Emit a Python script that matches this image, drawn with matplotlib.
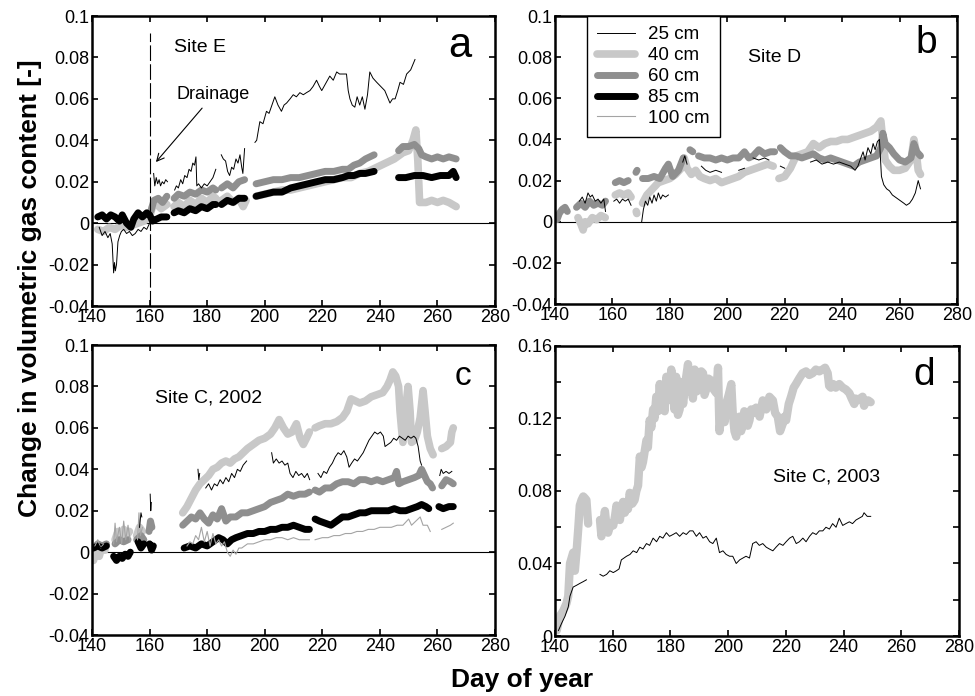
import numpy as np
import matplotlib
matplotlib.use('Agg')
from matplotlib import pyplot as plt

plt.rcParams['font.family'] = ['Liberation Sans', 'DejaVu Sans']
plt.rcParams['axes.unicode_minus'] = False

nan = np.nan

# ---------------- panel a : Site E ----------------
a25_day = [142.5, 143.5, 144.5, 145.5, 146.3, 147.0, 147.5, 147.8, 148.1, 148.5, 149.0, 149.6, 150.2, 151.0,
           152.0, 153.0, 154.0, 155.0, 156.0, 157.0, 158.0, 159.0, 160.0, 160.8, nan,
           161.4, 161.8, 162.3, 162.8, 163.3, 163.8, 164.4, 165.0, 165.6, 166.2, nan,
           168.7, 169.3, 170.0, 170.8, 171.5, 172.2, 173.0, 173.7, 174.4, 175.0, 175.6, 176.1, 176.4, 177.0,
           178.0, 179.0, 180.0, 181.0, 182.0, 183.0, nan,
           184.9, 185.6, 186.4, 187.1, 187.8, 188.5, 189.2, 190.0, 190.7, 191.4, 192.0, 192.4, 193.0, nan,
           196.6, 197.2, 198.3, 199.4, 200.6, 201.5, 202.5, 203.5, 204.6, 205.8, 206.7, 207.6, 208.8, 209.9,
           211.0, 212.2, 213.4, 214.5, 215.7, 216.8, 218.0, 219.0, 219.8, 221.0, 222.6, 223.8, 225.0, 226.0,
           227.3, 228.4, 229.0, 229.6, 230.4, 231.3, 232.1, 233.0, 233.9, 234.8, 235.7, 236.5, 237.6, 238.9,
           240.3, 241.7, 242.6, 243.5, 244.4, 245.3, 246.2, 247.0, 248.2, 249.3, 250.7, 252.2]
a25_val = [-0.002, -0.006, -0.004, -0.007, -0.005, -0.010, -0.024, -0.019, -0.023, -0.020, -0.009, -0.006,
           -0.004, -0.003, -0.005, -0.004, -0.006, -0.005, -0.003, -0.004, -0.002, -0.003, 0.000, 0.002, nan,
           0.024, 0.018, 0.022, 0.019, 0.021, 0.018, 0.020, 0.019, 0.021, 0.020, nan,
           0.016, 0.018, 0.017, 0.021, 0.019, 0.023, 0.022, 0.026, 0.025, 0.029, 0.028, 0.032, 0.018, 0.019,
           0.017, 0.019, 0.018, 0.020, 0.022, 0.026, nan,
           0.033, 0.031, 0.030, 0.025, 0.023, 0.027, 0.026, 0.031, 0.029, 0.033, 0.027, 0.024, 0.036, nan,
           0.039, 0.040, 0.049, 0.048, 0.054, 0.053, 0.057, 0.061, 0.057, 0.054, 0.057, 0.058, 0.060, 0.062,
           0.061, 0.063, 0.062, 0.063, 0.064, 0.066, 0.069, 0.066, 0.064, 0.067, 0.071, 0.069, 0.073, 0.072,
           0.072, 0.072, 0.064, 0.060, 0.057, 0.056, 0.061, 0.057, 0.061, 0.055, 0.062, 0.073, 0.070, 0.068,
           0.066, 0.064, 0.061, 0.058, 0.060, 0.060, 0.064, 0.068, 0.067, 0.072, 0.074, 0.079]

a40_day = [142, 144, 146, 148, 150, 152, 154, 156, 158, 160, 161, 162.5, 164, 166, nan,
           168.5, 170, 172, 174, 176, 178, 180, 182, 183, nan,
           185, 187, 189, 191, 192.5, 193.5, nan,
           197, 200, 203, 206, 209, 212, 215, 218, 221, 224, 227, 230, 233, 236, 239, 242, 245, 248, 250,
           251.5, 252.5, 253.2, 253.8, 256, 258, 260, 262, 264, 266.5]
a40_val = [-0.003, -0.004, -0.002, -0.003, -0.001, -0.002, -0.001, 0.000, 0.001, 0.003, 0.008, 0.009, 0.007,
           0.009, nan,
           0.008, 0.010, 0.008, 0.011, 0.009, 0.012, 0.010, 0.013, 0.012, nan,
           0.011, 0.013, 0.010, 0.012, 0.008, 0.011, nan,
           0.013, 0.014, 0.015, 0.016, 0.016, 0.017, 0.018, 0.019, 0.020, 0.021, 0.022, 0.022, 0.024, 0.025,
           0.027, 0.029, 0.031, 0.034, 0.035, 0.040, 0.045, 0.030, 0.010, 0.010, 0.011, 0.010, 0.011, 0.010,
           0.008]

a60_day = [160.5, 161.5, 163, 164.5, 166, nan,
           168.5, 170, 172, 174, 176, 178, 180, 182, 183, nan,
           185, 187, 189, 191, 193, nan,
           197, 200, 203, 206, 209, 212, 215, 218, 221, 224, 227, 229, 231, 233, 235, 238, nan,
           246.5, 248, 250, 252, 253.5, 254.5, 256, 258, 260, 262, 264, 266.5]
a60_val = [0.006, 0.011, 0.012, 0.010, 0.013, nan,
           0.012, 0.014, 0.013, 0.015, 0.014, 0.016, 0.015, 0.017, 0.016, nan,
           0.017, 0.019, 0.017, 0.020, 0.021, nan,
           0.019, 0.020, 0.021, 0.021, 0.022, 0.022, 0.023, 0.024, 0.025, 0.025, 0.026, 0.026, 0.028, 0.029,
           0.031, 0.033, nan,
           0.035, 0.037, 0.037, 0.038, 0.036, 0.033, 0.032, 0.031, 0.032, 0.031, 0.032, 0.031]

a85_day = [142, 143.5, 145, 146.5, 148, 149.5, 150.5, 152, 153.5, 154.5, 156, 157.5, 159, 160, 161, 162.5,
           164, 166, nan,
           168.5, 170, 172, 174, 176, 178, 180, 182, 183, nan,
           185, 187, 189, 191, 193, nan,
           197, 200, 203, 206, 209, 212, 215, 218, 221, 224, 227, 229, 231, 233, 235, 238, nan,
           246.5, 249, 252, 255, 258, 261, 264, 265.5, 266.5]
a85_val = [0.003, 0.004, 0.002, 0.004, 0.003, 0.001, 0.004, 0.000, -0.002, 0.002, 0.005, 0.003, 0.005, 0.004,
           0.001, 0.002, 0.003, 0.003, nan,
           0.005, 0.006, 0.005, 0.007, 0.006, 0.008, 0.007, 0.009, 0.009, nan,
           0.009, 0.011, 0.010, 0.012, 0.012, nan,
           0.013, 0.014, 0.015, 0.015, 0.017, 0.018, 0.019, 0.020, 0.021, 0.021, 0.022, 0.023, 0.023, 0.024,
           0.024, 0.025, nan,
           0.022, 0.022, 0.023, 0.023, 0.022, 0.023, 0.023, 0.025, 0.022]

# ---------------- panel b : Site D ----------------
b25_day = [148.5, 149.5, 150.5, 151.5, 152.3, 153, 154, 155, 156, 157, 157.6, nan,
           160.5, 161.5, 162.5, 163.5, 164.5, 165.5, 166.5, nan,
           170.2, 170.8, 171.5, 172.3, 173, 173.8, 174.5, 175.3, 176, 176.8, 177.5, 178.5, 179.5, nan,
           184.5, 185.2, 186, nan,
           191, 192.5, 194, 196, 198, nan,
           204, 206, nan,
           209, 211, 213, 214.5, nan,
           218.5, 220, nan,
           229, 231, 233, 235, 237, 239, 241, 243, 244.5, 245.5, 246.5, 247.3, 248, 249, 250, 250.8, 251.5,
           252.3, 253, 253.7, 254.5, 255.5, 256.5, 257.5, 258.5, 259.5, 260.5, 261.5, 262.4, 263.5, 264.5,
           265.5, 266.5, 267.3]
b25_val = [0.010, 0.012, 0.009, 0.014, 0.012, 0.013, 0.010, 0.011, 0.009, 0.011, 0.005, nan,
           0.010, 0.011, 0.009, 0.011, 0.010, 0.011, 0.008, nan,
           0.000, 0.006, 0.010, 0.008, 0.012, 0.009, 0.013, 0.010, 0.014, 0.011, 0.013, 0.012, 0.013, nan,
           0.029, 0.032, 0.028, nan,
           0.027, 0.025, 0.024, 0.025, 0.024, nan,
           0.025, 0.026, nan,
           0.031, 0.030, 0.031, 0.030, nan,
           0.027, 0.026, nan,
           0.029, 0.030, 0.028, 0.029, 0.028, 0.029, 0.028, 0.027, 0.025, 0.027, 0.031, 0.034, 0.030, 0.036,
           0.033, 0.038, 0.035, 0.039, 0.040, 0.022, 0.018, 0.016, 0.015, 0.013, 0.012, 0.011, 0.010, 0.009,
           0.008, 0.009, 0.011, 0.014, 0.020, 0.016]

b40_day = [148, 149, 149.8, 150.5, 151.5, 153, 154.5, 156, 157.5, nan,
           161, 162.5, 164, 165.5, 166.5, nan,
           168.3, 168.5, nan,
           170.5, 172, 174, 176, 178, 180, 182, 184, 185, 186, 187.5, 189, 190.5, 192, 194, 196, 198, 200,
           202, 204, 206, 208, 210, 212, 214, 216, nan,
           218, 220, 222, 224, 226, 228, 230, 232, 234, 236, 238, 240, 242, 244, 246, 248, 250, 252, 253.5,
           254.3, 255, 256.5, 258, 260, 262, 264, 265, 265.8, 266.5, 267.3]
b40_val = [0.002, -0.001, -0.004, 0.000, -0.001, 0.002, 0.001, 0.003, 0.002, nan,
           0.013, 0.014, 0.013, 0.014, 0.012, nan,
           0.005, 0.004, nan,
           0.009, 0.013, 0.016, 0.019, 0.020, 0.021, 0.023, 0.026, 0.031, 0.026, 0.023, 0.025, 0.022, 0.021,
           0.020, 0.021, 0.019, 0.020, 0.021, 0.022, 0.024, 0.025, 0.026, 0.027, 0.028, 0.027, nan,
           0.021, 0.022, 0.026, 0.032, 0.033, 0.034, 0.038, 0.036, 0.038, 0.039, 0.039, 0.040, 0.040, 0.041,
           0.042, 0.043, 0.044, 0.046, 0.049, 0.038, 0.030, 0.027, 0.025, 0.025, 0.026, 0.030, 0.040, 0.034,
           0.025, 0.023]

b60_day = [140.7, 141.5, 142.5, 143.5, 144.3, nan,
           147.5, 149, 150.5, 152, 153.5, 155, 156.5, 157.6, nan,
           161, 162.5, 164, 165.5, nan,
           168.2, 168.6, nan,
           170.5, 172.5, 174.5, 176.5, 178.5, 179.5, 181, 183, 184.7, nan,
           187, 188, nan,
           190, 192, 194, 196, 198, 200, 202, 204, 206, 207.5, 209, 211, 213, 215, 216.5, nan,
           218.5, 220, 222, 224, 226, 228, 230, 232, 234, 236, 238, 240, 242, 244, 246, 248, 250, 252, 253.5,
           254.2, 255, 256.5, 258, 260, 262, 264, 265, 266, 267.3]
b60_val = [0.001, 0.004, 0.006, 0.007, 0.005, nan,
           0.007, 0.009, 0.007, 0.010, 0.008, 0.009, 0.008, 0.010, nan,
           0.019, 0.020, 0.019, 0.020, nan,
           0.024, 0.025, nan,
           0.021, 0.021, 0.022, 0.021, 0.026, 0.028, 0.022, 0.025, 0.031, nan,
           0.035, 0.034, nan,
           0.032, 0.031, 0.031, 0.030, 0.031, 0.030, 0.031, 0.031, 0.034, 0.031, 0.032, 0.035, 0.033, 0.034,
           0.034, nan,
           0.036, 0.034, 0.032, 0.032, 0.031, 0.032, 0.033, 0.031, 0.030, 0.031, 0.030, 0.029, 0.028, 0.027,
           0.029, 0.030, 0.031, 0.032, 0.036, 0.043, 0.038, 0.036, 0.033, 0.030, 0.029, 0.031, 0.038, 0.034,
           0.032]

# ---------------- panel c : Site C, 2002 ----------------
c25_day = [141, 142, 143, 144, 145, nan,
           156.5, 157, 157.3, nan,
           160.2, 160.4, 160.6, nan,
           176.8, 177.1, 177.4, nan,
           179.5, 180.5, 181.5, 182.5, 183.5, 184.5, 185.5, 186.5, 187.5, 188.5, 189.5, 190.5, 191.5, 192.5,
           193.7, nan,
           202.4, 203, 204, 205, 206, 207, 208, 208.8, 209.8, 210.8, 211.8, 212.8, 213.8, 214.8, 215.6, nan,
           218.5, 219.5, 220.5, 221.5, 222.5, 223.5, 224.5, 225.5, 226.5, 227.5, 228.5, 229.3, 230.2, 231.2,
           232.2, 233.2, 234.2, 235.2, 236.2, 237.2, 238.2, 239.2, 240.2, 241.2, 241.8, 242.8, 243.8, 244.8,
           245.8, 246.8, 247.8, 248.8, 249.8, 250.8, 251.8, 252.5, 253.3, 254, 254.5, nan,
           260.8, 261.3, 262, 263, 264, 265]
c25_val = [0.002, 0.004, 0.002, 0.003, 0.002, nan,
           0.012, 0.019, 0.017, nan,
           0.028, 0.020, 0.024, nan,
           0.040, 0.035, 0.038, nan,
           0.031, 0.033, 0.030, 0.033, 0.032, 0.035, 0.033, 0.036, 0.034, 0.038, 0.036, 0.040, 0.039, 0.042,
           0.044, nan,
           0.048, 0.043, 0.045, 0.043, 0.044, 0.042, 0.043, 0.038, 0.036, 0.039, 0.037, 0.038, 0.036, 0.038,
           0.035, nan,
           0.038, 0.036, 0.039, 0.038, 0.041, 0.043, 0.046, 0.048, 0.047, 0.049, 0.046, 0.041, 0.043, 0.045,
           0.044, 0.046, 0.048, 0.051, 0.054, 0.056, 0.058, 0.057, 0.058, 0.056, 0.051, 0.052, 0.053, 0.055,
           0.054, 0.056, 0.055, 0.054, 0.056, 0.055, 0.056, 0.055, 0.051, 0.044, 0.042, nan,
           0.037, 0.040, 0.038, 0.039, 0.038, 0.039]

c40_day = [140.5, 141.5, 142.5, 143.5, 144.5, nan,
           148, 149, 150, 151, 152, 153, nan,
           155.5, 156.5, 157.5, nan,
           171.5, 173, 174.5, 176, 177.5, 179, 180.5, 182, 183.5, 185, 186.5, 188, 189.5, 191, 192.5, 194,
           196, 198, 200, 202, 203.5, 205, 206.5, 208, 209.5, 211, 212.3, 213.4, 214.5, 215.5, nan,
           217.5, 219, 221, 223, 225, 227, 228.5, 230, 231.5, 233, 235, 237, 239, 241, 242.5, 243.5, 244.5,
           245.5, 246.5, 247, 247.5, 248, 248.5, 249, 249.8, 250.5, 251, 252, 253, 254, 255, 255.7, 256.5,
           257.5, 258.5, nan,
           261.5, 263, 264.5, 265, 265.5]
c40_val = [-0.004, 0.001, -0.002, 0.003, 0.001, nan,
           0.006, 0.010, 0.007, 0.011, 0.008, 0.010, nan,
           0.008, 0.012, 0.010, nan,
           0.019, 0.022, 0.026, 0.030, 0.033, 0.035, 0.037, 0.040, 0.041, 0.043, 0.044, 0.043, 0.045, 0.046,
           0.048, 0.050, 0.052, 0.054, 0.055, 0.057, 0.060, 0.064, 0.060, 0.057, 0.058, 0.062, 0.055, 0.052,
           0.055, 0.058, nan,
           0.060, 0.061, 0.062, 0.062, 0.063, 0.065, 0.068, 0.074, 0.073, 0.072, 0.073, 0.075, 0.076, 0.077,
           0.080, 0.083, 0.087, 0.085, 0.080, 0.068, 0.060, 0.053, 0.058, 0.070, 0.080, 0.068, 0.053, 0.054,
           0.058, 0.065, 0.078, 0.068, 0.056, 0.050, 0.047, nan,
           0.050, 0.051, 0.053, 0.058, 0.060]

c60_day = [140.5, 142, 143.5, 145, nan,
           148, 149.5, 151, 152.5, nan,
           155.5, 157, 158, nan,
           159.8, 160.3, 160.8, nan,
           171.5, 173, 174.5, 176, 177.5, 179, 180.5, 182, 183.5, 185, 186.5, 188, 190, 192, 194, 196, 198,
           200, 202, 204, 206, 208, 210, 212, 214, 215.5, nan,
           217.5, 219, 221, 223, 225, 227, 229, 231, 233, 235, 237, 239, 241, 243, 245, 245.8, 246.6, 248, 250,
           252, 253.5, 254.5, 255.5, 256.5, 257.5, 258.3, nan,
           261.5, 263, 264.5, 265.5]
c60_val = [0.002, 0.004, 0.003, 0.004, nan,
           0.004, 0.006, 0.005, 0.006, nan,
           0.006, 0.008, 0.006, nan,
           0.010, 0.015, 0.012, nan,
           0.013, 0.015, 0.017, 0.016, 0.019, 0.016, 0.014, 0.018, 0.016, 0.021, 0.015, 0.017, 0.017, 0.019,
           0.019, 0.020, 0.021, 0.022, 0.024, 0.025, 0.026, 0.028, 0.027, 0.028, 0.028, 0.029, nan,
           0.030, 0.029, 0.031, 0.031, 0.033, 0.034, 0.034, 0.033, 0.035, 0.035, 0.034, 0.035, 0.034, 0.035,
           0.036, 0.039, 0.033, 0.034, 0.035, 0.036, 0.037, 0.040, 0.037, 0.034, 0.033, 0.031, nan,
           0.032, 0.035, 0.034, 0.033]

c85_day = [140.5, 142, 143.5, 145, nan,
           147.5, 148.5, 149.5, 150.5, 151.5, 152.5, 153.3, nan,
           156, 157, 158, nan,
           160, 160.7, 161.3, nan,
           172, 174, 176, 178, 180, 182, 184, 185.5, 187, 188.5, 190, 192, 194, 196, 198, 200, 202, 204, 206,
           208, 210, 212, 214, 215.5, nan,
           217.5, 219, 221, 223, 225, 227, 229, 231, 233, 235, 237, 239, 241, 243, 245, 247, 249, 251, 253,
           254.5, 256, 257, nan,
           260.5, 262, 264, 265.5]
c85_val = [0.002, 0.003, 0.002, 0.003, nan,
           -0.002, -0.004, -0.002, -0.003, -0.001, -0.002, 0.000, nan,
           0.005, 0.002, 0.004, nan,
           0.004, 0.001, 0.003, nan,
           0.002, 0.003, 0.002, 0.004, 0.003, 0.005, 0.007, 0.006, 0.004, 0.006, 0.007, 0.008, 0.009, 0.009,
           0.010, 0.010, 0.011, 0.011, 0.012, 0.012, 0.013, 0.012, 0.011, 0.011, nan,
           0.016, 0.015, 0.014, 0.013, 0.015, 0.017, 0.017, 0.018, 0.019, 0.019, 0.020, 0.020, 0.020, 0.020,
           0.021, 0.020, 0.020, 0.021, 0.022, 0.023, 0.022, 0.021, nan,
           0.022, 0.021, 0.022, 0.022]

c100_day = [141, 142, 143, 144, nan,
            147.5, 148, 148.5, 149.5, 150.3, 151, 151.7, 152.5, 153.3, nan,
            155.8, 156.3, 156.8, 157.5, nan,
            173, 174, 175, 176, 177, 178, 179, 180, 181, 182, 183, 184, 185, 186, 187, 188, 189, 190, 191, 192,
            193, 194, 196, 198, 200, 202, 204, 206, 208, 210, 212, 214, 215.5, nan,
            217.5, 220, 222, 224, 226, 228, 230, 232, 234, 236, 238, 240, 242, 244, 246, 248, 250, 251, 252.5,
            254, 255, 256.5, 257.5, nan,
            261.5, 263, 264.5, 265.5]
c100_val = [0.003, 0.006, 0.002, 0.004, nan,
            0.004, 0.014, 0.005, 0.012, 0.004, 0.015, 0.006, 0.013, 0.005, nan,
            0.006, 0.019, 0.008, 0.012, nan,
            0.003, 0.005, 0.004, 0.008, 0.006, 0.012, 0.005, 0.010, 0.003, 0.009, 0.004, 0.006, 0.003, 0.005,
            0.000, -0.002, 0.001, -0.001, 0.002, 0.002, 0.003, 0.004, 0.004, 0.005, 0.006, 0.006, 0.007, 0.007,
            0.006, 0.007, 0.006, 0.006, 0.006, nan,
            0.006, 0.007, 0.007, 0.008, 0.008, 0.009, 0.009, 0.010, 0.010, 0.011, 0.011, 0.012, 0.012, 0.012,
            0.013, 0.013, 0.016, 0.013, 0.015, 0.017, 0.013, 0.013, 0.010, nan,
            0.011, 0.012, 0.013, 0.014]

# ---------------- panel d : Site C, 2003 ----------------
d25_day = [141.2, 142.3, 143.5, 144.6, 145.2, 146.3, 147.5, 148.6, 149.8, 150.9, nan,
           155.6, 156.7, 157.9, 159.0, 160.2, 161.3, 162.2, 163.0, 164.8, 166.0, 167.1, 168.3, 169.4, 170.5,
           171.7, 172.8, 174.0, 175.2, 176.3, 177.4, 178.6, 179.7, 180.9, 182.0, 183.2, 184.4, 185.5, 186.7,
           187.8, 189.0, 190.1, 191.3, 192.4, 193.6, 194.7, 195.9, 197.0, 198.2, 199.3, 200.5, 201.6, 202.8,
           204.0, 205.1, 206.2, 207.4, 208.5, 209.7, 210.8, 212.0, 213.2, 214.3, 215.5, 216.6, 217.8, 219.0,
           220.1, 221.3, 222.4, 223.6, 224.7, 225.9, 227.0, 228.2, 229.3, 230.5, 231.6, 232.8, 233.9, 235.1,
           236.2, 237.4, 238.5, 239.7, 240.8, 242.0, 243.1, 244.3, 245.4, 246.5, 247.1, 248.2, 249.4]
d25_val = [0.003, 0.007, 0.011, 0.016, 0.022, 0.027, 0.028, 0.029, 0.030, 0.031, nan,
           0.034, 0.033, 0.034, 0.036, 0.035, 0.036, 0.037, 0.042, 0.044, 0.045, 0.047, 0.046, 0.049, 0.048,
           0.051, 0.050, 0.054, 0.052, 0.055, 0.054, 0.057, 0.055, 0.056, 0.057, 0.055, 0.057, 0.056, 0.058,
           0.058, 0.055, 0.057, 0.054, 0.055, 0.052, 0.051, 0.054, 0.046, 0.047, 0.045, 0.044, 0.044, 0.040,
           0.042, 0.043, 0.044, 0.043, 0.051, 0.052, 0.050, 0.051, 0.049, 0.048, 0.047, 0.049, 0.051, 0.050,
           0.052, 0.054, 0.055, 0.051, 0.052, 0.054, 0.052, 0.055, 0.057, 0.056, 0.058, 0.058, 0.060, 0.059,
           0.062, 0.060, 0.065, 0.061, 0.062, 0.063, 0.062, 0.064, 0.065, 0.066, 0.068, 0.066, 0.066]

d40_day = [140.6, 141.7, 142.9, 144.0, 144.6, 145.2, 146.3, 146.9, 147.5, 148.1, 148.6, 149.2, 149.8, 150.4,
           150.9, 151.5, nan,
           155.6, 156.1, 156.7, 157.3, 157.9, 158.4, 159.3, 160.2, 160.8, 161.3, 162.0, 162.5, 163.0, 163.6,
           164.2, 164.8, 165.3, 165.9, 166.8, 167.6, 168.2, 168.8, 169.4, 170.0, 170.5, 171.1, 171.7, 172.2,
           172.8, 173.4, 174.0, 174.5, 175.1, 175.7, 176.3, 176.8, 177.4, 178.0, 178.6, 179.1, 179.7, 180.3,
           180.9, 181.4, 182.0, 182.6, 183.2, 183.8, 184.4, 185.2, 186.1, 186.6, 187.2, 187.8, 188.4, 189.2,
           190.1, 190.7, 191.3, 191.8, 192.4, 193.2, 194.1, 195.0, 195.9, 196.5, 197.0, 197.6, 198.2, 198.8,
           199.3, 200.2, 201.1, 201.6, 202.2, 202.8, 203.4, 203.9, 204.5, 205.1, 205.6, 206.2, 206.8, 207.4,
           208.0, 208.5, 209.7, 210.9, 212.0, 213.2, 214.3, 215.5, 216.3, 217.2, 218.0, 218.9, 219.5, 220.1,
           221.0, 221.8, 222.7, 223.5, 224.6, 225.8, 227.0, 228.1, 229.3, 230.4, 231.6, 232.7, 233.6, 234.5,
           235.0, 235.6, 236.4, 237.3, 238.5, 239.7, 240.8, 242.0, 242.8, 243.7, 244.2, 244.8, 245.7, 246.6,
           247.1, 247.7, 248.5, 249.4]
d40_val = [0.003, 0.011, 0.014, 0.018, 0.022, 0.040, 0.046, 0.036, 0.047, 0.060, 0.072, 0.075, 0.077, 0.076,
           0.075, 0.062, nan,
           0.064, 0.055, 0.062, 0.069, 0.060, 0.057, 0.062, 0.061, 0.066, 0.072, 0.065, 0.064, 0.070, 0.074,
           0.068, 0.072, 0.070, 0.079, 0.073, 0.075, 0.080, 0.083, 0.099, 0.093, 0.096, 0.102, 0.108, 0.104,
           0.119, 0.115, 0.125, 0.120, 0.132, 0.124, 0.139, 0.128, 0.136, 0.124, 0.143, 0.130, 0.132, 0.147,
           0.136, 0.125, 0.143, 0.122, 0.125, 0.140, 0.128, 0.140, 0.150, 0.135, 0.141, 0.131, 0.147, 0.135,
           0.137, 0.146, 0.145, 0.133, 0.136, 0.142, 0.141, 0.136, 0.134, 0.148, 0.113, 0.122, 0.123, 0.118,
           0.128, 0.133, 0.139, 0.123, 0.113, 0.110, 0.118, 0.121, 0.113, 0.117, 0.124, 0.123, 0.116, 0.119,
           0.125, 0.123, 0.126, 0.121, 0.130, 0.125, 0.132, 0.130, 0.123, 0.121, 0.113, 0.117, 0.121, 0.119,
           0.128, 0.132, 0.137, 0.139, 0.142, 0.145, 0.146, 0.144, 0.145, 0.147, 0.146, 0.147, 0.148, 0.145,
           0.138, 0.137, 0.139, 0.137, 0.139, 0.137, 0.136, 0.134, 0.131, 0.128, 0.131, 0.130, 0.131, 0.132,
           0.127, 0.129, 0.130, 0.129]

# ---------------- plotting ----------------
LIGHT = '#c8c8c8'
MID = '#8f8f8f'
THIN_GRAY = '#a4a4a4'

fig = plt.figure(figsize=(9.75, 6.96), dpi=100)
ax_a = fig.add_axes([0.0944, 0.5603, 0.4133, 0.4167])
ax_b = fig.add_axes([0.5692, 0.5632, 0.4123, 0.4138])
ax_c = fig.add_axes([0.0944, 0.0876, 0.4133, 0.4167])
ax_d = fig.add_axes([0.5692, 0.0862, 0.4144, 0.4167])

kw = dict(solid_capstyle='round', solid_joinstyle='round')


def style(ax, ymin, ymax, step, labels):
    ax.set_xlim(140, 280)
    ax.set_ylim(ymin, ymax)
    ax.set_xticks(np.arange(140, 281, 20))
    ax.set_xticklabels([str(t) for t in range(140, 281, 20)])
    ticks = np.round(np.arange(ymin, ymax + step / 2, step), 3)
    ax.set_yticks(ticks)
    ax.set_yticklabels(labels)
    ax.tick_params(direction='in', length=4, width=1.2, top=True, right=True, labelsize=13, pad=2)
    for sp in ax.spines.values():
        sp.set_linewidth(1.8)
    if ymin < 0:
        ax.axhline(0, color='black', lw=0.8, zorder=1)


ylabs = ['-0.04', '-0.02', '0', '0.02', '0.04', '0.06', '0.08', '0.1']

# a
ax_a.plot(a40_day, a40_val, color=LIGHT, lw=5.5, **kw)
ax_a.plot(a60_day, a60_val, color=MID, lw=5, **kw)
ax_a.plot(a85_day, a85_val, color='black', lw=5, **kw)
ax_a.plot(a25_day, a25_val, color='black', lw=0.7)
ax_a.plot([160, 160], [-0.04, 0.092], color='black', lw=0.8, dashes=(14, 3))
ax_a.text(168.5, 0.085, 'Site E', fontsize=14, va='center')
ax_a.annotate('Drainage', xy=(162.2, 0.0295), xytext=(169.5, 0.062), fontsize=13, va='center',
              arrowprops=dict(arrowstyle='->', lw=0.8, color='black', shrinkA=2, shrinkB=0))
ax_a.text(0.913, 0.895, 'a', transform=ax_a.transAxes, fontsize=30, ha='center', va='center')
style(ax_a, -0.04, 0.1, 0.02, ylabs)

# b
ax_b.plot(b40_day, b40_val, color=LIGHT, lw=5.5, **kw)
ax_b.plot(b60_day, b60_val, color=MID, lw=5, **kw)
ax_b.plot(b25_day, b25_val, color='black', lw=0.7)
ax_b.text(207.2, 0.0796, 'Site D', fontsize=14, va='center')
ax_b.text(0.923, 0.906, 'b', transform=ax_b.transAxes, fontsize=28, ha='center', va='center')
style(ax_b, -0.04, 0.1, 0.02, ylabs)

# c
l40, = ax_c.plot(c40_day, c40_val, color=LIGHT, lw=5.5, label='40 cm', **kw)
l60, = ax_c.plot(c60_day, c60_val, color=MID, lw=5, label='60 cm', **kw)
l85, = ax_c.plot(c85_day, c85_val, color='black', lw=5, label='85 cm', **kw)
l100, = ax_c.plot(c100_day, c100_val, color=THIN_GRAY, lw=0.8, label='100 cm')
l25, = ax_c.plot(c25_day, c25_val, color='black', lw=0.7, label='25 cm')
ax_c.text(161.9, 0.0744, 'Site C, 2002', fontsize=14, va='center')
ax_c.text(0.92, 0.89, 'c', transform=ax_c.transAxes, fontsize=24, ha='center', va='center')
style(ax_c, -0.04, 0.1, 0.02, ylabs)

# d
ax_d.plot(d40_day, d40_val, color=LIGHT, lw=6, **kw)
ax_d.plot(d25_day, d25_val, color='black', lw=0.7)
ax_d.text(215.5, 0.0877, 'Site C, 2003', fontsize=14, va='center')
ax_d.text(0.913, 0.9, 'd', transform=ax_d.transAxes, fontsize=28, ha='center', va='center')
dlabs = ['0', '', '0.04', '', '0.08', '', '0.12', '', '0.16']
style(ax_d, 0, 0.16, 0.02, dlabs)

leg = ax_b.legend(handles=[l25, l40, l60, l85, l100], loc='upper left', bbox_to_anchor=(0.08, 1.0),
                  fontsize=13.5, frameon=True, fancybox=False, edgecolor='black', framealpha=1,
                  handlelength=2.0, handletextpad=0.7, labelspacing=0.2, borderaxespad=0, borderpad=0.55)
leg.get_frame().set_linewidth(1.0)

fig.text(0.031, 0.586, 'Change in volumetric gas content [-]', rotation=90, fontsize=19,
         fontweight='bold', ha='center', va='center')
fig.text(0.535, 0.023, 'Day of year', fontsize=19, fontweight='bold', ha='center', va='center')

fig.savefig('out.png', dpi=100)
